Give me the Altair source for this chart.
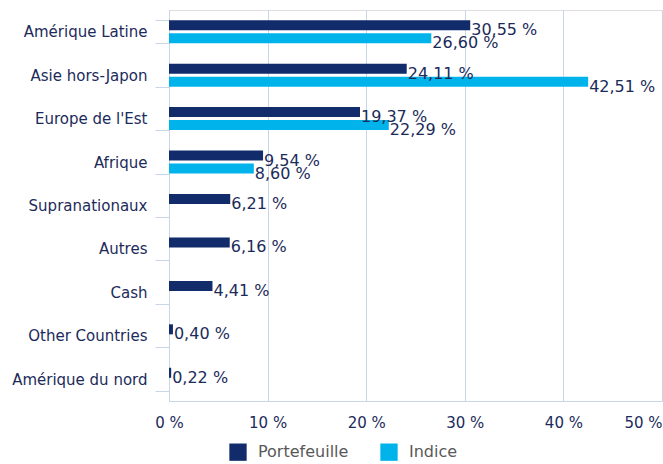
import altair as alt
import pandas as pd

categories = ["Amérique Latine", "Asie hors-Japon", "Europe de l'Est", "Afrique",
              "Supranationaux", "Autres", "Cash", "Other Countries", "Amérique du nord"]
portefeuille = [30.55, 24.11, 19.37, 9.54, 6.21, 6.16, 4.41, 0.40, 0.22]
indice = [26.60, 42.51, 22.29, 8.60, None, None, None, None, None]
series = ["Portefeuille", "Indice"]
colors = ["#112b6b", "#00b3eb"]
x_ticks = [0, 10, 20, 30, 40, 50]

rows = []
for c, p, i in zip(categories, portefeuille, indice):
    for s, v in zip(series, [p, i]):
        if v is not None:
            rows.append({"cat": c, "series": s, "value": v,
                         "label": f"{v:.2f}".replace(".", ",") + " %"})
df = pd.DataFrame(rows)

txt = "#1c2b5a"
grid = "#c9d6e8"
font = "DejaVu Sans"

y = alt.Y("cat:N", sort=categories, title=None,
          scale=alt.Scale(paddingInner=0.47, paddingOuter=0.235),
          axis=alt.Axis(tickBand="extent", tickSize=14, tickColor=grid, domainColor=grid,
                        labelPadding=8, labelFontSize=15, labelColor=txt, labelFont=font,
                        labelLimit=200))
yoff = alt.YOffset("series:N", sort=series,
                   scale=alt.Scale(paddingInner=0.23, paddingOuter=0))
x = alt.X("value:Q", title=None,
          scale=alt.Scale(domain=[0, 50], nice=False),
          axis=alt.Axis(values=x_ticks, labelExpr="datum.value + ' %'", grid=True,
                        gridColor=grid, domainColor=grid, ticks=False, labelPadding=14,
                        labelFlush=False,
                        labelAlign={"condition": {"test": "datum.value == 50", "value": "right"},
                                    "value": "center"},
                        labelFontSize=15, labelColor=txt, labelFont=font))

bars = alt.Chart(df).mark_bar().encode(
    x=x, y=y, yOffset=yoff,
    color=alt.Color("series:N", sort=series,
                    scale=alt.Scale(domain=series, range=colors),
                    legend=alt.Legend(title=None, orient="none", legendX=60, legendY=433,
                                      direction="horizontal", symbolType="square",
                                      symbolSize=300, symbolStrokeWidth=0,
                                      labelFontSize=16, labelColor="#595959",
                                      labelOffset=11, labelFont=font, columnPadding=31,
                                      symbolOffset=0)),
)

labels = alt.Chart(df).mark_text(align="left", baseline="middle", dx=1, dy=5,
                                 fontSize=16, color=txt, font=font).encode(
    x="value:Q", y=alt.Y("cat:N", sort=categories), yOffset=yoff, text="label:N")

chart = (bars + labels).properties(
    width=493, height=391,
    autosize=alt.AutoSizeParams(type="none"),
    padding={"left": 169, "top": 10, "right": 1, "bottom": 63},
).configure_view(stroke=None).configure(background="white")

chart.save("out.html", embed_options={"renderer": "svg", "actions": False})
